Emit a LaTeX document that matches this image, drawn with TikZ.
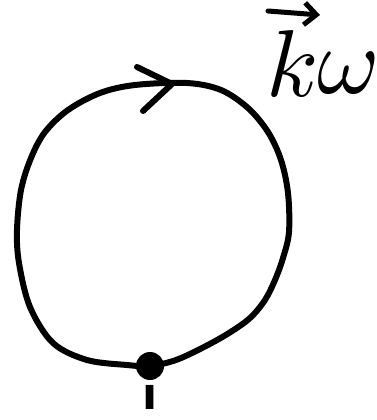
\documentclass[tikz,border=0pt]{standalone}
\usepackage{graphicx}
\usepackage{fontspec}
\newfontfamily\ilabfont{DejaVu Sans}
\usetikzlibrary{arrows.meta}
\begin{document}
\begin{tikzpicture}[x=1pt,y=-1pt,
  stroke/.style={line width=6pt, line cap=round, line join=round, black},
  lbl/.style={inner sep=0pt}]
\useasboundingbox (0,0) rectangle (376,420);
% loop
\draw[stroke] plot[smooth cycle, tension=0.55] coordinates {
  (150,366) (127,365) (87,360) (53,343) (30,307) (19,263) (17,230)
  (21,190) (31,158) (45,132) (68,110) (100,93) (135,85) (187,83)
  (221,90) (248,108) (268,132) (281,160) (288,193) (289,232)
  (283,258) (275,280) (265,300) (250,318) (229,333) (204,347) (176,360)};
% direction chevron
\coordinate (a1) at (137,67);
\coordinate (a2) at (172,84);
\coordinate (a3) at (143,111);
\draw[stroke] (a1) -- (a2) -- (a3);
% marked point
\node[circle, fill=black, minimum size=28pt, inner sep=0pt] (dot) at (150,366) {};
\node[inner sep=0pt, font=\fontsize{44}{46}\selectfont\ilabfont\bfseries, anchor=base] (ilab) at (150,409) {ı};
% label k omega
\node[lbl, anchor=base west] (k) at (266,96) {\scalebox{9.5}{$k$}};
\node[lbl, anchor=base] (w) at (349,93) {\scalebox{9.5}{$\omega$}};
\coordinate (v1) at (268,11);
\coordinate (v2) at (320,15);
\draw[line width=5pt, line cap=round, -{Straight Barb[length=12pt,width=22pt,line width=5pt]}] (v1) -- (v2);
\end{tikzpicture}
\end{document}
